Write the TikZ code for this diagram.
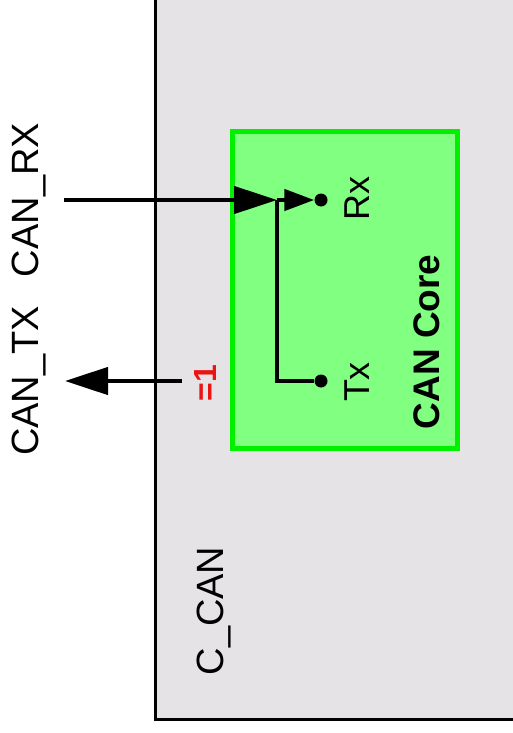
\documentclass[tikz,border=0pt]{standalone}
\usepackage{fontspec}
\setmainfont{Liberation Sans}
\usetikzlibrary{arrows.meta,positioning}
\definecolor{canbg}{RGB}{229,227,230}
\definecolor{coregreen}{RGB}{128,255,128}
\definecolor{coreedge}{RGB}{0,240,0}
\definecolor{signred}{RGB}{235,20,20}

\begin{document}
\begin{tikzpicture}[
    x=1pt, y=-1pt,
    sig/.style={font=\fontsize{38}{42}\selectfont, rotate=90, inner sep=0pt},
    corelabel/.style={font=\fontsize{37}{40}\selectfont\bfseries, rotate=90, inner sep=0pt},
    pin/.style={circle, fill=black, inner sep=0pt, minimum size=13pt},
    wire/.style={line width=4.5pt},
    bigarrow/.style={wire, -{Triangle[length=43pt,width=27pt]}},
    smallarrow/.style={wire, -{Triangle[length=30pt,width=21pt]}},
]
\useasboundingbox (0,0) rectangle (512,733);
\fill[white] (0,0) rectangle (512,733);

% C_CAN module
\draw[line width=3pt, fill=canbg] (155,-20) rectangle (540,719);
\node[sig] (ccan) at (214,611) {C\_CAN};

% CAN Core
\node[draw=coreedge, line width=5pt, fill=coregreen, minimum width=225pt, minimum height=316pt, inner sep=0pt] (core) at (345,290) {};
\node[corelabel] (corename) at (427,342) {CAN Core};

% Pins
\node[pin] (rxpin) at (321,200) {};
\node[pin] (txpin) at (321,381) {};
\node[sig, font=\fontsize{36}{40}\selectfont] (rxlabel) at (357,198) {Rx};
\node[sig, font=\fontsize{36}{40}\selectfont] (txlabel) at (357,382) {Tx};

% Outside signals
\node[sig] (canrx) at (29,200) {CAN\_RX};
\node[sig] (cantx) at (29,381) {CAN\_TX};
\node[sig, font=\fontsize{32}{36}\selectfont\bfseries, text=signred] (inv) at (205,383) {=1};

\coordinate (rxin) at (64,200);
\coordinate (split) at (277,200);
\coordinate (txsrc) at (182,381);
\coordinate (txout) at (65,381);

% Wires
\draw[bigarrow] (rxin) -- (split);
\draw[smallarrow] (split) -- (rxpin);
\draw[wire] (split) |- (txpin);
\draw[bigarrow] (txsrc) -- (txout);
\end{tikzpicture}
\end{document}
